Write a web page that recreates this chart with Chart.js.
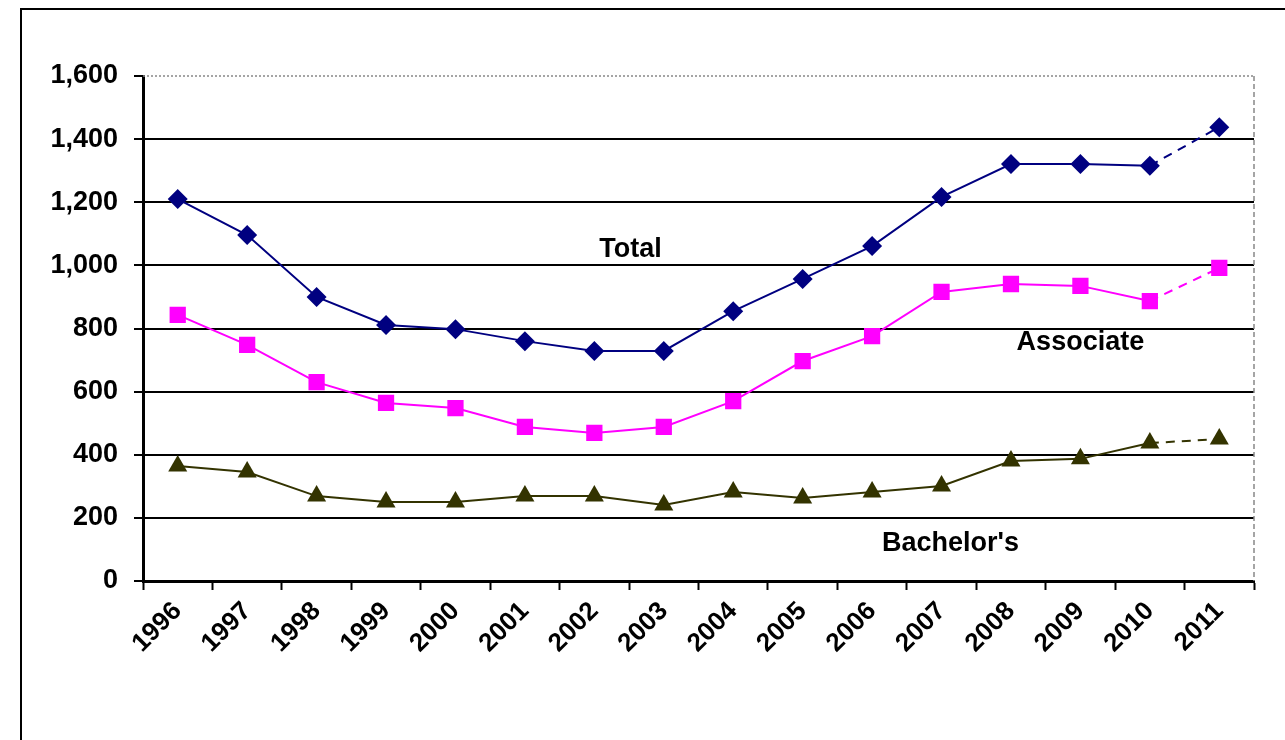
<!DOCTYPE html>
<html>
<head>
<meta charset="utf-8">
<script src="https://cdn.jsdelivr.net/npm/chart.js@4/dist/chart.umd.min.js"></script>
<style>
  body { margin: 0; background: #fff; }
  #wrap { position: relative; width: 1285px; height: 740px; }
</style>
</head>
<body>
<div id="wrap"><canvas id="lineChart"></canvas></div>
<script>
var years = ['1996','1997','1998','1999','2000','2001','2002','2003','2004','2005','2006','2007','2008','2009','2010','2011'];
var totalData     = [1210, 1096, 900, 811, 798, 760, 729, 729, 855, 957, 1061, 1217, 1321, 1321, 1316, 1438];
var associateData = [843, 748, 630, 564, 548, 488, 469, 488, 570, 697, 776, 916, 941, 935, 887, 992];
var bachelorData  = [364, 345, 269, 250, 250, 269, 269, 241, 282, 263, 282, 301, 380, 387, 437, 450];
var yTicks = [0, 200, 400, 600, 800, 1000, 1200, 1400, 1600];

// series labels drawn inside the plot (category index, value)
var seriesNotes = [
    { text: 'Total', at: 6.52, value: 1050 },
    { text: 'Associate', at: 13.0, value: 757 },
    { text: "Bachelor's", at: 11.13, value: 120 }
];

var fontFamily = '"Liberation Sans", Arial, sans-serif';
var lastIdx = years.length - 1;

function dashLast(ctx) {
    return ctx.p1DataIndex === lastIdx ? [9, 7] : undefined;
}

function makeSet(label, data, color, style, radius) {
    return {
        label: label,
        data: data,
        borderColor: color,
        backgroundColor: color,
        borderWidth: 2,
        pointStyle: style,
        pointRadius: radius,
        pointHoverRadius: radius,
        pointBorderWidth: 0,
        tension: 0,
        fill: false,
        segment: { borderDash: dashLast }
    };
}

var framePlugin = {
    id: 'frame',
    beforeDraw: function(chart) {
        var c = chart.ctx;
        c.save();
        c.fillStyle = '#fff';
        c.fillRect(0, 0, chart.width, chart.height);
        c.strokeStyle = '#000';
        c.lineWidth = 2;
        c.strokeRect(21, 9, 1270, 800);
        c.restore();
    },
    afterDraw: function(chart) {
        var c = chart.ctx, a = chart.chartArea;
        c.save();
        // dotted top + dashed right plot border
        c.strokeStyle = '#888';
        c.lineWidth = 1.5;
        c.setLineDash([2, 2]);
        c.beginPath();
        c.moveTo(a.left, a.top);
        c.lineTo(a.right, a.top);
        c.stroke();
        c.setLineDash([5, 3]);
        c.beginPath();
        c.moveTo(a.right, a.top);
        c.lineTo(a.right, a.bottom);
        c.stroke();
        // series notes
        c.setLineDash([]);
        c.fillStyle = '#000';
        c.font = 'bold 27px ' + fontFamily;
        c.textAlign = 'center';
        c.textBaseline = 'middle';
        seriesNotes.forEach(function(n) {
            c.fillText(n.text, chart.scales.x.getPixelForValue(n.at), chart.scales.y.getPixelForValue(n.value));
        });
        c.restore();
    }
};

function drawLineChart() {
    var ctx = document.getElementById('lineChart').getContext('2d');
    return new Chart(ctx, {
        type: 'line',
        data: {
            labels: years,
            datasets: [
                makeSet('Total', totalData, '#000080', 'rectRot', 10),
                makeSet('Associate', associateData, '#FF00FF', 'rect', 11.5),
                makeSet("Bachelor's", bachelorData, '#333300', 'triangle', 11)
            ]
        },
        options: {
            responsive: false,
            animation: false,
            layout: { padding: { left: 20, right: 31, top: 76, bottom: 39 } },
            plugins: {
                legend: { display: false },
                tooltip: { enabled: false }
            },
            scales: {
                x: {
                    offset: true,
                    grid: { offset: true, drawOnChartArea: false, tickLength: 9, tickColor: '#000', tickWidth: 2 },
                    border: { color: '#000', width: 3 },
                    ticks: {
                        color: '#000',
                        font: { family: fontFamily, size: 26, weight: 'bold' },
                        minRotation: 45,
                        maxRotation: 45,
                        padding: 6
                    },
                    afterFit: function(s) { s.height = 120; }
                },
                y: {
                    min: 0,
                    max: 1600,
                    afterBuildTicks: function(s) { s.ticks = yTicks.map(function(v) { return { value: v }; }); },
                    grid: {
                        color: function(c) { return c.tick && c.tick.value === 1600 ? 'rgba(0,0,0,0)' : '#000'; },
                        lineWidth: 2,
                        tickLength: 9,
                        tickColor: '#000',
                        tickWidth: 2
                    },
                    border: { color: '#000', width: 3 },
                    ticks: {
                        color: '#000',
                        font: { family: fontFamily, size: 27, weight: 'bold' },
                        padding: 16,
                        callback: function(v) { return v.toLocaleString('en-US'); }
                    },
                    afterFit: function(s) { s.width = 123; }
                }
            }
        },
        plugins: [framePlugin]
    });
}

var canvas = document.getElementById('lineChart');
canvas.width = 1285;
canvas.height = 740;
drawLineChart();
</script>
</body>
</html>
